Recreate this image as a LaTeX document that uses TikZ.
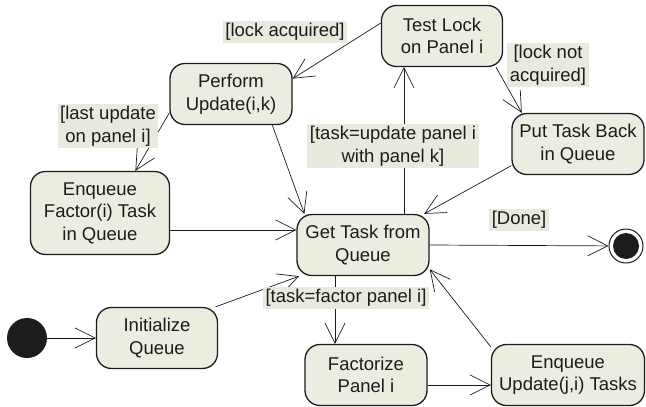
\documentclass[tikz,border=0pt]{standalone}
\usepackage{fontspec}
\setmainfont{Liberation Sans}
\usepackage{xcolor}
\usetikzlibrary{arrows.meta,positioning,calc}
\definecolor{statefill}{RGB}{236,236,224}
\definecolor{guardfill}{RGB}{233,234,222}
\definecolor{ink}{RGB}{28,28,28}

\begin{document}
\begin{tikzpicture}[x=1pt,y=-1pt,>={Straight Barb[length=20pt,width=20pt]},
  state/.style={draw=ink,line width=1.3pt,fill=statefill,rounded corners=15pt,
    align=center,inner sep=0pt,minimum height=61pt,text=ink,
    font=\fontsize{18.5}{22.5}\selectfont},
  guard/.style={fill=guardfill,align=center,inner sep=2.5pt,text=ink,
    font=\fontsize{18.5}{22.5}\selectfont},
  trans/.style={->,draw=ink,line width=0.7pt}]
  \useasboundingbox (0,0) rectangle (646,407);
  \node[state,minimum width=121pt] (test) at (442,36) {Test Lock\\on Panel i};
  \node[state,minimum width=122pt] (perform) at (231,94) {Perform\\Update(i,k)};
  \node[state,minimum width=132pt] (putback) at (578,144) {Put Task Back\\in Queue};
  \node[state,minimum width=139pt,minimum height=83pt] (enqfactor) at (100,213) {Enqueue\\Factor(i) Task\\in Queue};
  \node[state,minimum width=132pt] (gettask) at (363,245) {Get Task from\\Queue};
  \node[state,minimum width=121pt] (init) at (157,338) {Initialize\\Queue};
  \node[state,minimum width=122pt] (factorize) at (366,375) {Factorize\\Panel i};
  \node[state,minimum width=153pt] (enqupdate) at (568,375) {Enqueue\\Update(j,i) Tasks};
  \node[circle,fill=ink,minimum size=40pt,inner sep=0pt] (start) at (27,338) {};
  \node[circle,draw=ink,line width=1pt,minimum size=34pt,inner sep=0pt] (stop) at (626,246) {};
  \fill[ink] (stop.center) circle[radius=13pt];

  \draw[trans] (start) -- (init);
  \draw[trans] (test.168) -- (perform.14);
  \draw[trans] (test.330) -- (putback.151);
  \draw[trans] (perform.197) -- (enqfactor.50);
  \draw[trans] (perform.323) -- (gettask.152);
  \draw[trans] ([xshift=41pt]gettask.north) -- ([xshift=41pt]gettask.north |- test.south);
  \draw[trans] (putback.198) -- (gettask.27);
  \draw[trans] ([yshift=-17pt]enqfactor.east) -- ([yshift=-17pt]enqfactor.east -| gettask.west);
  \draw[trans] (init.28) -- (gettask.206);
  \draw[trans] ([xshift=-28pt]gettask.south) -- ([xshift=-28pt]gettask.south |- factorize.north);
  \draw[trans] ([yshift=-10pt]factorize.east) -- ([yshift=-10pt]factorize.east -| enqupdate.west);
  \draw[trans] (enqupdate.160) -- (gettask.340);
  \draw[trans] (gettask.east) -- (stop);

  \node[guard] (lockacq) at (285,32) {[lock acquired]};
  \node[guard] (locknot) at (548,65) {[lock not\\acquired]};
  \node[guard] (lastupd) at (108,126) {[last update\\on panel i]};
  \node[guard] (taskupd) at (393,146) {[task=update panel i\\with panel k]};
  \node[guard] (done) at (519,220) {[Done]};
  \node[guard] (taskfac) at (346,298) {[task=factor panel i]};
\end{tikzpicture}
\end{document}
